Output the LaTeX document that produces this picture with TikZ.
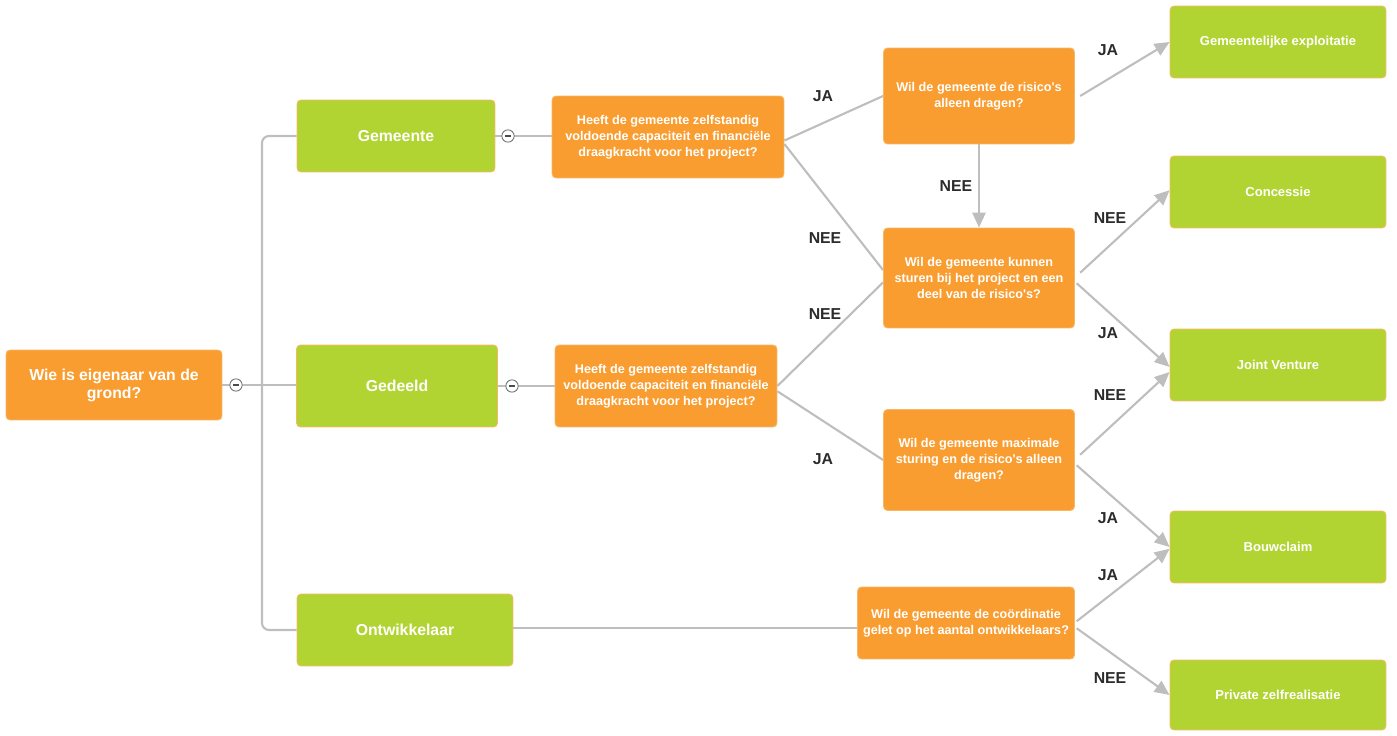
\documentclass[tikz,border=0pt]{standalone}
\usepackage{fontspec}
\setmainfont{Liberation Sans}
\usetikzlibrary{arrows.meta}
\definecolor{boxorange}{HTML}{F99D31}
\definecolor{boxgreen}{HTML}{B2D433}
\definecolor{boxrim}{HTML}{F6B865}
\definecolor{linegray}{HTML}{BEBEBE}
\definecolor{labelgray}{HTML}{2B2B2B}

\begin{document}
\begin{tikzpicture}[x=0.02cm, y=-0.02cm,
      box/.style={rectangle, rounded corners=2.3pt, draw=boxrim, line width=0.5pt, text=white, align=center, inner sep=2pt},
      question/.style={box, fill=boxorange, font=\bfseries\fontsize{7.2}{9}\selectfont},
      choice/.style={box, fill=boxgreen, font=\bfseries\fontsize{9}{10.5}\selectfont},
      outcome/.style={box, fill=boxgreen, font=\bfseries\fontsize{7.4}{9}\selectfont, minimum width=4.32cm, minimum height=1.44cm},
      tree/.style={draw=linegray, line width=1.2pt},
      flow/.style={tree, -{Triangle[length=8.5pt, width=7.5pt]}},
      answer/.style={text=labelgray, font=\bfseries\fontsize{9}{10}\selectfont},
      fold/.style={circle, draw=black!55, fill=white, line width=0.5pt, minimum size=7pt, inner sep=0pt,
        path picture={\draw[black!70, line width=0.6pt] ([xshift=1.8pt]path picture bounding box.west) -- ([xshift=-1.8pt]path picture bounding box.east);}}
      ]
      \useasboundingbox (0,0) rectangle (1397,736);

      % first level
      \node[question, font=\bfseries\fontsize{9}{10.3}\selectfont, minimum width=4.32cm, minimum height=1.4cm] (owner) at (114,385) {Wie is eigenaar van de\\grond?};
      \node[choice, minimum width=3.96cm, minimum height=1.44cm] (gemeente) at (396,136) {Gemeente};
      \node[choice, minimum width=4.02cm, minimum height=1.64cm] (gedeeld) at (397,386) {Gedeeld};
      \node[choice, minimum width=4.32cm, minimum height=1.44cm] (ontwikkelaar) at (405,630) {Ontwikkelaar};

      % questions
      \node[question, minimum width=4.64cm, minimum height=1.64cm] (capgem) at (668,137) {Heeft de gemeente zelfstandig\\voldoende capaciteit en financiële\\draagkracht voor het project?};
      \node[question, minimum width=4.44cm, minimum height=1.64cm] (capged) at (666,386) {Heeft de gemeente zelfstandig\\voldoende capaciteit en financiële\\draagkracht voor het project?};
      \node[question, minimum width=3.82cm, minimum height=1.92cm] (risico) at (979,96) {Wil de gemeente de risico\textquotesingle s\\alleen dragen?};
      \node[question, minimum width=3.82cm, minimum height=2cm] (sturen) at (979,278) {Wil de gemeente kunnen\\sturen bij het project en een\\deel van de risico\textquotesingle s?};
      \node[question, minimum width=3.82cm, minimum height=2.02cm] (maximaal) at (979,460) {Wil de gemeente maximale\\sturing en de risico\textquotesingle s alleen\\dragen?};
      \node[question, minimum width=4.34cm, minimum height=1.44cm] (coord) at (966,623) {Wil de gemeente de coördinatie\\gelet op het aantal ontwikkelaars?};

      % outcomes
      \node[outcome] (expl) at (1278,42) {Gemeentelijke exploitatie};
      \node[outcome] (concessie) at (1278,192) {Concessie};
      \node[outcome] (jv) at (1278,365) {Joint Venture};
      \node[outcome] (bouwclaim) at (1278,547) {Bouwclaim};
      \node[outcome, minimum height=1.4cm] (private) at (1278,695) {Private zelfrealisatie};

      % tree lines
      \coordinate (split) at (262,386);
      \draw[tree] (owner.east) -- (owner.east -| gedeeld.west);
      \draw[tree, rounded corners=4pt] (gemeente.west) -| (split) |- (ontwikkelaar.west);
      \draw[tree] (gemeente.east) -- (gemeente.east -| capgem.west);
      \draw[tree] (gedeeld.east) -- (capged.west);
      \draw[tree] ([yshift=1pt]ontwikkelaar.east) -- ([yshift=1pt]ontwikkelaar.east -| coord.west);
      \node[fold] (fold0) at (236,385) {};
      \node[fold] (fold1) at (508,136) {};
      \node[fold] (fold2) at (512,386) {};

      % decisions
      \draw[tree] ([yshift=-2pt]capgem.east) -- (risico.west);
      \draw[tree] ([yshift=-4pt]capgem.east) -- ([yshift=4.5pt]sturen.west);
      \draw[tree] (capged.east) -- ([yshift=-2.5pt]sturen.west);
      \draw[tree] ([yshift=-3pt]capged.east) -- (maximaal.west);
      \draw[flow] (risico.south) -- (sturen.north) node[answer, midway, left] (nee0) {NEE};
      \draw[flow] ([xshift=3pt]risico.east) -- (expl.west);
      \draw[flow] ([xshift=3pt, yshift=3pt]sturen.east) -- ([yshift=1pt]concessie.west);
      \draw[flow] ([xshift=1pt, yshift=-3pt]sturen.east) -- ([yshift=-1.1pt]jv.west);
      \draw[flow] ([xshift=3pt, yshift=3pt]maximaal.east) -- ([yshift=-4pt]jv.west);
      \draw[flow] ([xshift=1pt, yshift=-3pt]maximaal.east) -- (bouwclaim.west);
      \draw[flow] ([xshift=1pt, yshift=1pt]coord.east) -- ([yshift=-1pt]bouwclaim.west);
      \draw[flow] ([xshift=1pt, yshift=-3pt]coord.east) -- (private.west);

      % answers
      \node[answer] (ja1) at (823,96) {JA};
      \node[answer] (nee1) at (825,238) {NEE};
      \node[answer] (nee2) at (825,314) {NEE};
      \node[answer] (ja2) at (823,459) {JA};
      \node[answer] (ja3) at (1108,50) {JA};
      \node[answer] (nee3) at (1110,218) {NEE};
      \node[answer] (ja4) at (1108,333) {JA};
      \node[answer] (nee4) at (1110,395) {NEE};
      \node[answer] (ja5) at (1108,518) {JA};
      \node[answer] (ja6) at (1108,575) {JA};
      \node[answer] (nee5) at (1110,678) {NEE};
    \end{tikzpicture}
\end{document}
